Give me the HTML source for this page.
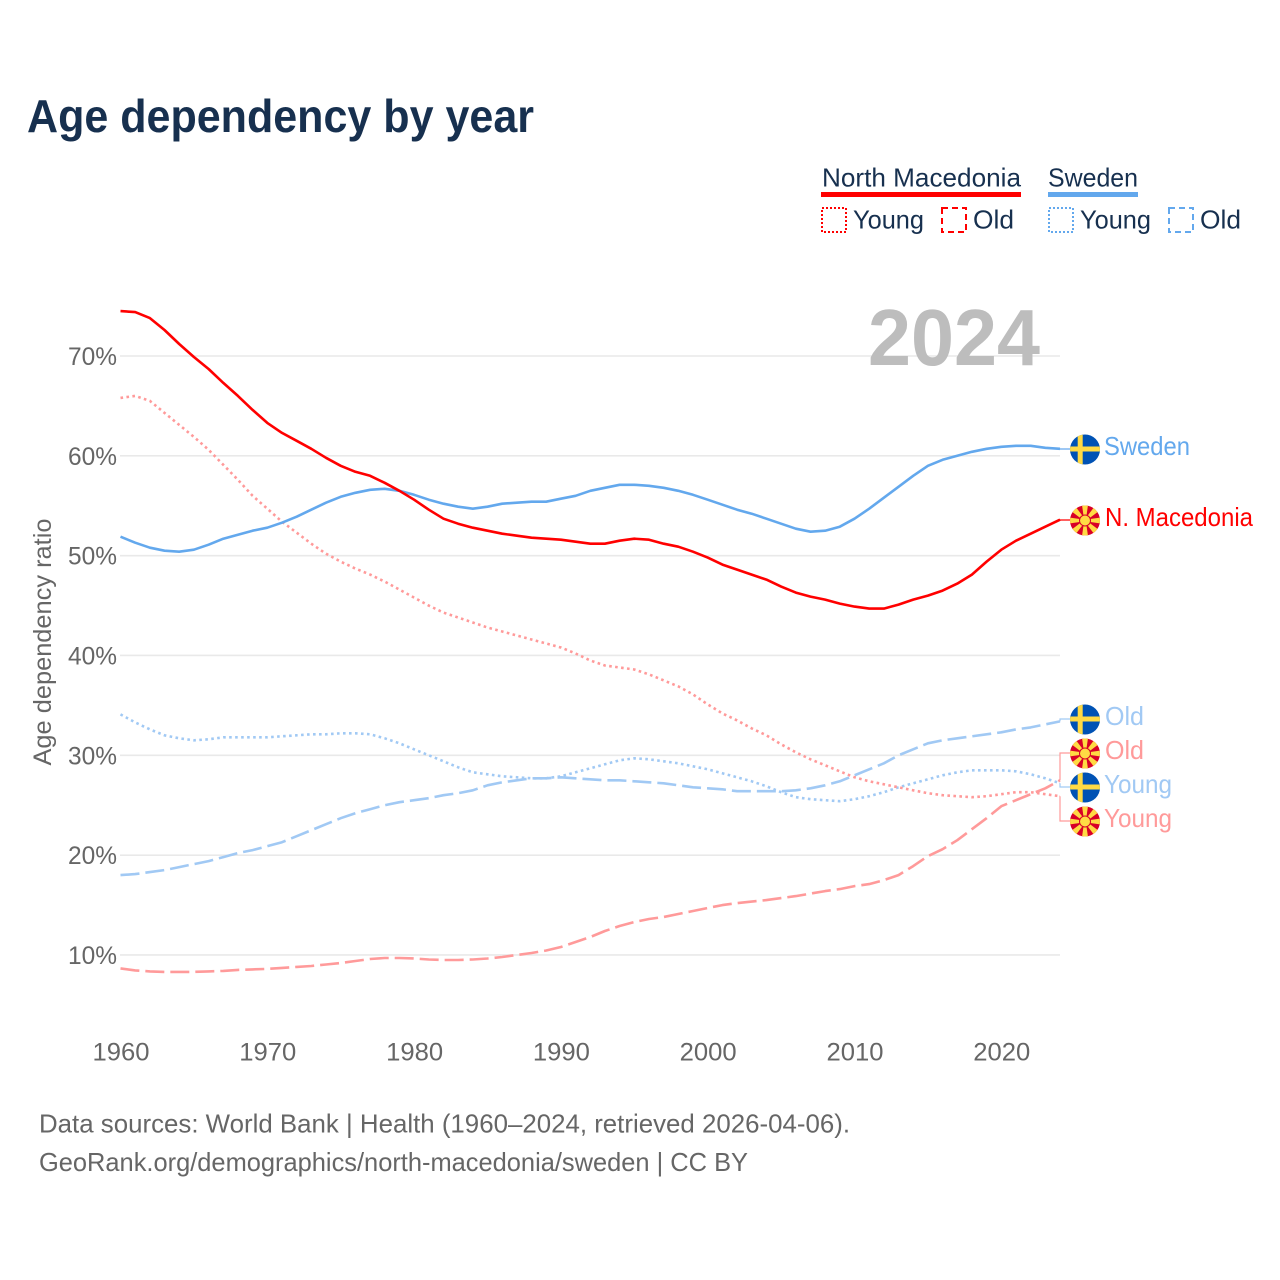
<!DOCTYPE html>
<html lang="en">
<head>
<meta charset="utf-8">
<title>Age dependency by year</title>
<style>
html,body{margin:0;padding:0;background:#fff;width:1280px;height:1280px;overflow:hidden}
svg{display:block;font-family:"Liberation Sans",sans-serif}
</style>
</head>
<body>
<svg id="chart" xmlns="http://www.w3.org/2000/svg" width="1280" height="1280" viewBox="0 0 1280 1280">
  <rect x="0" y="0" width="1280" height="1280" fill="#fff"/>
  <text x="27" y="132" font-size="46" font-weight="700" fill="#17304f" textLength="507" lengthAdjust="spacingAndGlyphs">Age dependency by year</text>

  <g font-size="26" fill="#17304f">
    <text x="822" y="186.5" textLength="199" lengthAdjust="spacingAndGlyphs">North Macedonia</text>
    <rect x="821" y="192" width="200" height="5" fill="#ff0000"/>
    <text x="1048" y="186.5" textLength="90" lengthAdjust="spacingAndGlyphs">Sweden</text>
    <rect x="1048" y="192" width="90" height="5" fill="#63a8ed"/>
    <rect x="822" y="208" width="24" height="24" fill="none" stroke="#ff0000" stroke-width="2" stroke-dasharray="2 2"/>
    <text x="853" y="228.5" textLength="71" lengthAdjust="spacingAndGlyphs">Young</text>
    <rect x="942" y="208" width="24" height="24" fill="none" stroke="#ff0000" stroke-width="2" stroke-dasharray="6 4"/>
    <text x="973" y="228.5" textLength="41" lengthAdjust="spacingAndGlyphs">Old</text>
    <rect x="1049" y="208" width="24" height="24" fill="none" stroke="#63a8ed" stroke-width="2" stroke-dasharray="2 2"/>
    <text x="1080" y="228.5" textLength="71" lengthAdjust="spacingAndGlyphs">Young</text>
    <rect x="1169" y="208" width="24" height="24" fill="none" stroke="#63a8ed" stroke-width="2" stroke-dasharray="6 4"/>
    <text x="1200" y="228.5" textLength="41" lengthAdjust="spacingAndGlyphs">Old</text>
  </g>

  <g id="grid"></g>
  <g id="yticks"></g>
  <g id="xticks"></g>

  <text transform="translate(51,642) rotate(-90)" text-anchor="middle" font-size="25" fill="#666" textLength="247" lengthAdjust="spacingAndGlyphs">Age dependency ratio</text>

  <text x="868" y="365" font-size="80" font-weight="700" fill="#bdbdbd" textLength="172" lengthAdjust="spacingAndGlyphs">2024</text>

  <g id="series"></g>
  <g id="connectors"></g>
  <g id="flags"></g>

  <g font-size="26">
    <text x="1104" y="455" fill="#63a8ed" textLength="86" lengthAdjust="spacingAndGlyphs">Sweden</text>
    <text x="1105" y="526" fill="#ff0000" textLength="148" lengthAdjust="spacingAndGlyphs">N. Macedonia</text>
    <text x="1105" y="725" fill="#a1c9f4" textLength="39" lengthAdjust="spacingAndGlyphs">Old</text>
    <text x="1105" y="759" fill="#ff9a9a" textLength="39" lengthAdjust="spacingAndGlyphs">Old</text>
    <text x="1104" y="793" fill="#a1c9f4" textLength="68" lengthAdjust="spacingAndGlyphs">Young</text>
    <text x="1104" y="827" fill="#ff9a9a" textLength="68" lengthAdjust="spacingAndGlyphs">Young</text>
  </g>

  <g font-size="26" fill="#666">
    <text x="39" y="1132.5" textLength="811" lengthAdjust="spacingAndGlyphs">Data sources: World Bank | Health (1960–2024, retrieved 2026-04-06).</text>
    <text x="39" y="1171" textLength="709" lengthAdjust="spacingAndGlyphs">GeoRank.org/demographics/north-macedonia/sweden | CC BY</text>
  </g>
</svg>
<script>
var startYear = 1960;
var xTickYears = [1960, 1970, 1980, 1990, 2000, 2010, 2020];
var yTickValues = [10, 20, 30, 40, 50, 60, 70];
var nmTotal = [74.5,74.4,73.8,72.6,71.2,69.9,68.7,67.3,66.0,64.6,63.3,62.3,61.5,60.7,59.8,59.0,58.4,58.0,57.3,56.5,55.6,54.6,53.7,53.2,52.8,52.5,52.2,52.0,51.8,51.7,51.6,51.4,51.2,51.2,51.5,51.7,51.6,51.2,50.9,50.4,49.8,49.1,48.6,48.1,47.6,46.9,46.3,45.9,45.6,45.2,44.9,44.7,44.7,45.1,45.6,46.0,46.5,47.2,48.1,49.4,50.6,51.5,52.2,52.9,53.6];
var seTotal = [51.9,51.3,50.8,50.5,50.4,50.6,51.1,51.7,52.1,52.5,52.8,53.3,53.9,54.6,55.3,55.9,56.3,56.6,56.7,56.5,56.1,55.6,55.2,54.9,54.7,54.9,55.2,55.3,55.4,55.4,55.7,56.0,56.5,56.8,57.1,57.1,57.0,56.8,56.5,56.1,55.6,55.1,54.6,54.2,53.7,53.2,52.7,52.4,52.5,52.9,53.7,54.7,55.8,56.9,58.0,59.0,59.6,60.0,60.4,60.7,60.9,61.0,61.0,60.8,60.7];
var nmYoung = [65.8,66.0,65.5,64.3,63.1,61.9,60.6,59.1,57.6,56.0,54.7,53.4,52.3,51.2,50.2,49.4,48.7,48.1,47.4,46.6,45.8,45.0,44.3,43.8,43.3,42.8,42.4,42.0,41.6,41.2,40.8,40.2,39.5,39.0,38.8,38.6,38.1,37.5,36.9,36.1,35.1,34.2,33.5,32.7,32.0,31.1,30.3,29.6,29.0,28.4,27.8,27.4,27.1,26.8,26.5,26.2,26.0,25.9,25.8,25.9,26.1,26.3,26.3,26.1,25.9];
var nmOld = [8.65,8.45,8.35,8.3,8.3,8.3,8.35,8.4,8.5,8.55,8.6,8.7,8.8,8.9,9.05,9.2,9.4,9.6,9.7,9.7,9.65,9.55,9.5,9.5,9.55,9.65,9.8,10.0,10.2,10.45,10.8,11.3,11.8,12.4,12.9,13.3,13.6,13.8,14.1,14.4,14.7,15.0,15.2,15.35,15.5,15.7,15.9,16.15,16.4,16.6,16.9,17.1,17.5,18.0,18.9,19.9,20.6,21.5,22.6,23.7,24.9,25.5,26.1,26.7,27.5];
var seYoung = [34.1,33.3,32.6,32.0,31.7,31.5,31.6,31.8,31.8,31.8,31.8,31.9,32.0,32.1,32.1,32.2,32.2,32.1,31.7,31.2,30.6,30.0,29.4,28.8,28.3,28.1,27.9,27.8,27.7,27.7,27.9,28.3,28.7,29.1,29.5,29.7,29.6,29.4,29.2,28.9,28.6,28.2,27.8,27.4,26.9,26.3,25.8,25.6,25.5,25.4,25.6,25.9,26.3,26.8,27.2,27.6,28.0,28.3,28.5,28.5,28.5,28.4,28.1,27.7,27.2];
var seOld = [18.0,18.1,18.3,18.5,18.8,19.1,19.4,19.8,20.2,20.5,20.9,21.3,21.9,22.5,23.1,23.7,24.2,24.6,25.0,25.3,25.5,25.7,26.0,26.2,26.5,27.0,27.3,27.5,27.7,27.7,27.8,27.7,27.6,27.5,27.5,27.4,27.3,27.2,27.0,26.8,26.7,26.6,26.4,26.4,26.4,26.4,26.5,26.7,27.0,27.4,28.0,28.6,29.2,30.0,30.6,31.2,31.5,31.7,31.9,32.1,32.3,32.6,32.8,33.1,33.4];

var NS = 'http://www.w3.org/2000/svg';
function xScale(year) { return 120.5 + (year - 1960) * 14.68; }
function yScale(v) { return 1054.8 - v * 9.983; }
function make(tag, attrs, parent) {
  var el = document.createElementNS(NS, tag);
  for (var k in attrs) { el.setAttribute(k, attrs[k]); }
  parent.appendChild(el);
  return el;
}
function linePath(values) {
  var d = '';
  for (var i = 0; i < values.length; i++) {
    d += (i ? 'L' : 'M') + xScale(startYear + i).toFixed(1) + ' ' + yScale(values[i]).toFixed(1);
  }
  return d;
}

var gridG = document.getElementById('grid');
var yG = document.getElementById('yticks');
var xG = document.getElementById('xticks');
var seriesG = document.getElementById('series');
var connG = document.getElementById('connectors');
var flagG = document.getElementById('flags');

yTickValues.forEach(function (v) {
  var ln = make('line', {x1: 120, x2: 1060, y1: yScale(v), y2: yScale(v), stroke: '#e9e9e9', 'stroke-width': 1.6}, gridG);
  
  
  var t = make('text', {x: 68, y: yScale(v) + 9, 'font-size': 25, fill: '#666', textLength: 49, lengthAdjust: 'spacingAndGlyphs'}, yG);
  t.textContent = v + '%';
  
  
});

xTickYears.forEach(function (yr) {
  var t = make('text', {x: xScale(yr) - 28, y: 1060.5, 'font-size': 25, fill: '#666', textLength: 57, lengthAdjust: 'spacingAndGlyphs'}, xG);
  t.textContent = yr;
  
  
});

function addSeries(name, values, color, width, dash) {
  var p = make('path', {d: linePath(values), fill: 'none', stroke: color, 'stroke-width': width, 'stroke-linejoin': 'round'}, seriesG);
  if (dash) { p.setAttribute('stroke-dasharray', dash); }
  
  
}
addSeries('line-se-old', seOld, '#a1c9f4', 2.6, '19 6');
addSeries('line-nm-old', nmOld, '#ff9a9a', 2.6, '19 6');
addSeries('line-se-young', seYoung, '#a1c9f4', 2.6, '2.6 3.4');
addSeries('line-nm-young', nmYoung, '#ff9a9a', 2.6, '2.6 3.4');
addSeries('line-se-total', seTotal, '#63a8ed', 2.6);
addSeries('line-nm-total', nmTotal, '#ff0000', 2.6);

function addConnector(name, values, labelY, color) {
  var sx = xScale(startYear + values.length - 1);
  var sy = yScale(values[values.length - 1]);
  var p = make('path', {d: 'M' + sx + ' ' + sy + 'L1060 ' + sy + 'L1060 ' + labelY + 'L1070 ' + labelY, fill: 'none', stroke: color, 'stroke-width': 1.2}, connG);
  
  
}
addConnector('connector-se-total', seTotal, 449, '#63a8ed');
addConnector('connector-nm-total', nmTotal, 520, '#ff0000');
addConnector('connector-se-old', seOld, 719, '#a1c9f4');
addConnector('connector-nm-old', nmOld, 753, '#ff9a9a');
addConnector('connector-se-young', seYoung, 787, '#a1c9f4');
addConnector('connector-nm-young', nmYoung, 821, '#ff9a9a');

var clip = make('clipPath', {id: 'flag-clip'}, make('defs', {}, flagG));
make('circle', {cx: 0, cy: 0, r: 15}, clip);

function addSwedenFlag(name, cy) {
  var g = make('g', {transform: 'translate(1085,' + (cy + 0.5) + ')', 'clip-path': 'url(#flag-clip)'}, flagG);
  
  
  make('rect', {x: -16, y: -16, width: 32, height: 32, fill: '#0052b4'}, g);
  make('rect', {x: -16, y: -3, width: 32, height: 5, fill: '#ffda44'}, g);
  make('rect', {x: -7.3, y: -16, width: 5, height: 32, fill: '#ffda44'}, g);
}
function addMacedoniaFlag(name, cy) {
  var g = make('g', {transform: 'translate(1085,' + (cy + 0.5) + ')', 'clip-path': 'url(#flag-clip)'}, flagG);
  
  
  make('rect', {x: -16, y: -16, width: 32, height: 32, fill: '#d80027'}, g);
  for (var a = 0; a < 8; a++) {
    make('polygon', {points: '-3.2,-17 3.2,-17 0.8,0 -0.8,0', fill: '#ffda44', transform: 'rotate(' + (a * 45) + ')'}, g);
  }
  make('circle', {cx: 0, cy: 0, r: 6, fill: '#d80027'}, g);
  make('circle', {cx: 0, cy: 0, r: 5, fill: '#ffda44'}, g);
}
addSwedenFlag('flag-sweden-total', 449);
addMacedoniaFlag('flag-macedonia-total', 520);
addSwedenFlag('flag-sweden-old', 719);
addMacedoniaFlag('flag-macedonia-old', 753);
addSwedenFlag('flag-sweden-young', 787);
addMacedoniaFlag('flag-macedonia-young', 821);
</script>
</body>
</html>
